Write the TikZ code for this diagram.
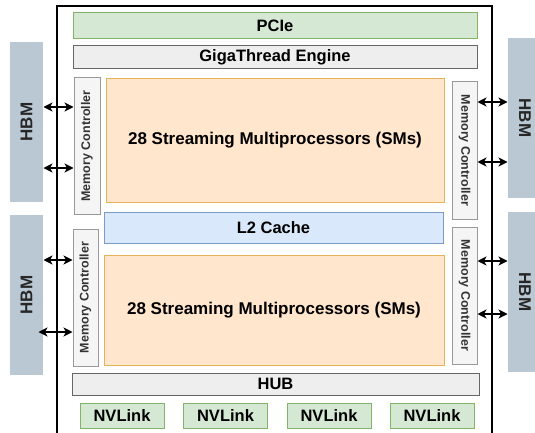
\documentclass[tikz,border=0pt]{standalone}
\usepackage{fontspec}
\setmainfont{Liberation Sans}
\usetikzlibrary{arrows.meta}
\definecolor{pcief}{HTML}{D5E8D4}
\definecolor{pcied}{HTML}{82B366}
\definecolor{grayf}{HTML}{EEEEEE}
\definecolor{grayd}{HTML}{666666}
\definecolor{mcf}{HTML}{F5F5F5}
\definecolor{mcd}{HTML}{999999}
\definecolor{smf}{HTML}{FFE6CC}
\definecolor{smd}{HTML}{E6B25A}
\definecolor{l2f}{HTML}{DAE8FC}
\definecolor{l2d}{HTML}{7E9CC8}
\definecolor{hbmf}{HTML}{BAC8D3}
\definecolor{txtd}{HTML}{333333}
\begin{document}
\begin{tikzpicture}[x=1pt,y=-1pt,
  box/.style={rectangle,inner sep=0pt,line width=1pt},
  greenbox/.style={box,fill=pcief,draw=pcied},
  graybox/.style={box,fill=grayf,draw=grayd},
  mcbox/.style={box,fill=mcf,draw=mcd},
  smbox/.style={box,fill=smf,draw=smd},
  l2box/.style={box,fill=l2f,draw=l2d},
  hbmbox/.style={box,fill=hbmf,draw=none},
  lbl/.style={font=\fontsize{16.5}{18}\selectfont\bfseries},
  smlbl/.style={font=\fontsize{17}{19}\selectfont\bfseries},
  mclbl/.style={font=\fontsize{12.5}{14}\selectfont\bfseries,text=txtd},
  hbmlbl/.style={font=\fontsize{17}{18}\selectfont\bfseries,text=black!85},
  tip/.style={},
  arr/.style={{Stealth[length=9pt,width=9pt,inset=2.5pt]}-{Stealth[length=9pt,width=9pt,inset=2.5pt]},line width=1.1pt}
]
\useasboundingbox (0,0) rectangle (535,433);
% outer frame
\draw[line width=1.5pt] (57,445) -- (57,6) -- (492,6) -- (492,445);
% top bars
\node[greenbox,minimum width=404pt,minimum height=26pt,lbl] (pcie) at (275,26) {PCIe};
\node[graybox,minimum width=404pt,minimum height=23pt,lbl] (giga) at (275,57.5) {GigaThread Engine};
% SMs and cache
\node[smbox,minimum width=338pt,minimum height=123pt,smlbl] (sm1) at (275,140.5) {28 Streaming Multiprocessors (SMs)};
\node[l2box,minimum width=339pt,minimum height=31pt,lbl] (l2) at (273.5,227.5) {L2 Cache};
\node[smbox,minimum width=340pt,minimum height=110pt,smlbl] (sm2) at (274,310) {28 Streaming Multiprocessors (SMs)};
% memory controllers
\node[mcbox,minimum width=26pt,minimum height=136pt] (mcL1) at (87,146) {};
\node[mclbl,rotate=90] (mcL1t) at (mcL1.center) {Memory Controller};
\node[mcbox,minimum width=25pt,minimum height=137pt] (mcL2) at (85.5,297.5) {};
\node[mclbl,rotate=90] (mcL2t) at (mcL2.center) {Memory Controller};
\node[mcbox,minimum width=25pt,minimum height=137pt] (mcR1) at (464.5,150.5) {};
\node[mclbl,rotate=-90] (mcR1t) at (mcR1.center) {Memory Controller};
\node[mcbox,minimum width=25pt,minimum height=137pt] (mcR2) at (464.5,295.5) {};
\node[mclbl,rotate=-90] (mcR2t) at (mcR2.center) {Memory Controller};
% HBMs
\node[hbmbox,minimum width=33pt,minimum height=160pt] (hbmL1) at (26.5,122) {};
\node[hbmlbl,rotate=90] (hbmL1t) at (hbmL1.center) {HBM};
\node[hbmbox,minimum width=33pt,minimum height=160pt] (hbmL2) at (26.5,295) {};
\node[hbmlbl,rotate=90] (hbmL2t) at (hbmL2.center) {HBM};
\node[hbmbox,minimum width=34pt,minimum height=160pt] (hbmR1) at (525,118) {};
\node[hbmlbl,rotate=-90] (hbmR1t) at (hbmR1.center) {HBM};
\node[hbmbox,minimum width=34pt,minimum height=160pt] (hbmR2) at (525,292) {};
\node[hbmlbl,rotate=-90] (hbmR2t) at (hbmR2.center) {HBM};
% hub and nvlinks
\node[graybox,minimum width=407pt,minimum height=22pt,lbl] (hub) at (275.5,384) {HUB};
\node[greenbox,minimum width=84pt,minimum height=25pt,lbl] (nv1) at (122,415.5) {NVLink};
\node[greenbox,minimum width=84pt,minimum height=25pt,lbl] (nv2) at (225.5,415.5) {NVLink};
\node[greenbox,minimum width=84pt,minimum height=25pt,lbl] (nv3) at (329,415.5) {NVLink};
\node[greenbox,minimum width=84pt,minimum height=25pt,lbl] (nv4) at (432,415.5) {NVLink};
% arrow levels
\coordinate (yL1) at (0,107);
\coordinate (yL2) at (0,168);
\coordinate (yL3) at (0,260);
\coordinate (yL4) at (0,332);
\coordinate (yR1) at (0,102);
\coordinate (yR2) at (0,162);
\coordinate (yR3) at (0,261);
\coordinate (yR4) at (0,314);
\draw[arr] (hbmL1.east |- yL1) -- (mcL1.west |- yL1);
\draw[arr] (hbmL1.east |- yL2) -- (mcL1.west |- yL2);
\draw[arr] (hbmL2.east |- yL3) -- (mcL2.west |- yL3);
\draw[arr] ([xshift=-5pt]hbmL2.east |- yL4) -- (mcL2.west |- yL4);
\draw[arr] (mcR1.east |- yR1) -- (hbmR1.west |- yR1);
\draw[arr] (mcR1.east |- yR2) -- (hbmR1.west |- yR2);
\draw[arr] (mcR2.east |- yR3) -- (hbmR2.west |- yR3);
\draw[arr] (mcR2.east |- yR4) -- (hbmR2.west |- yR4);
\end{tikzpicture}
\end{document}
